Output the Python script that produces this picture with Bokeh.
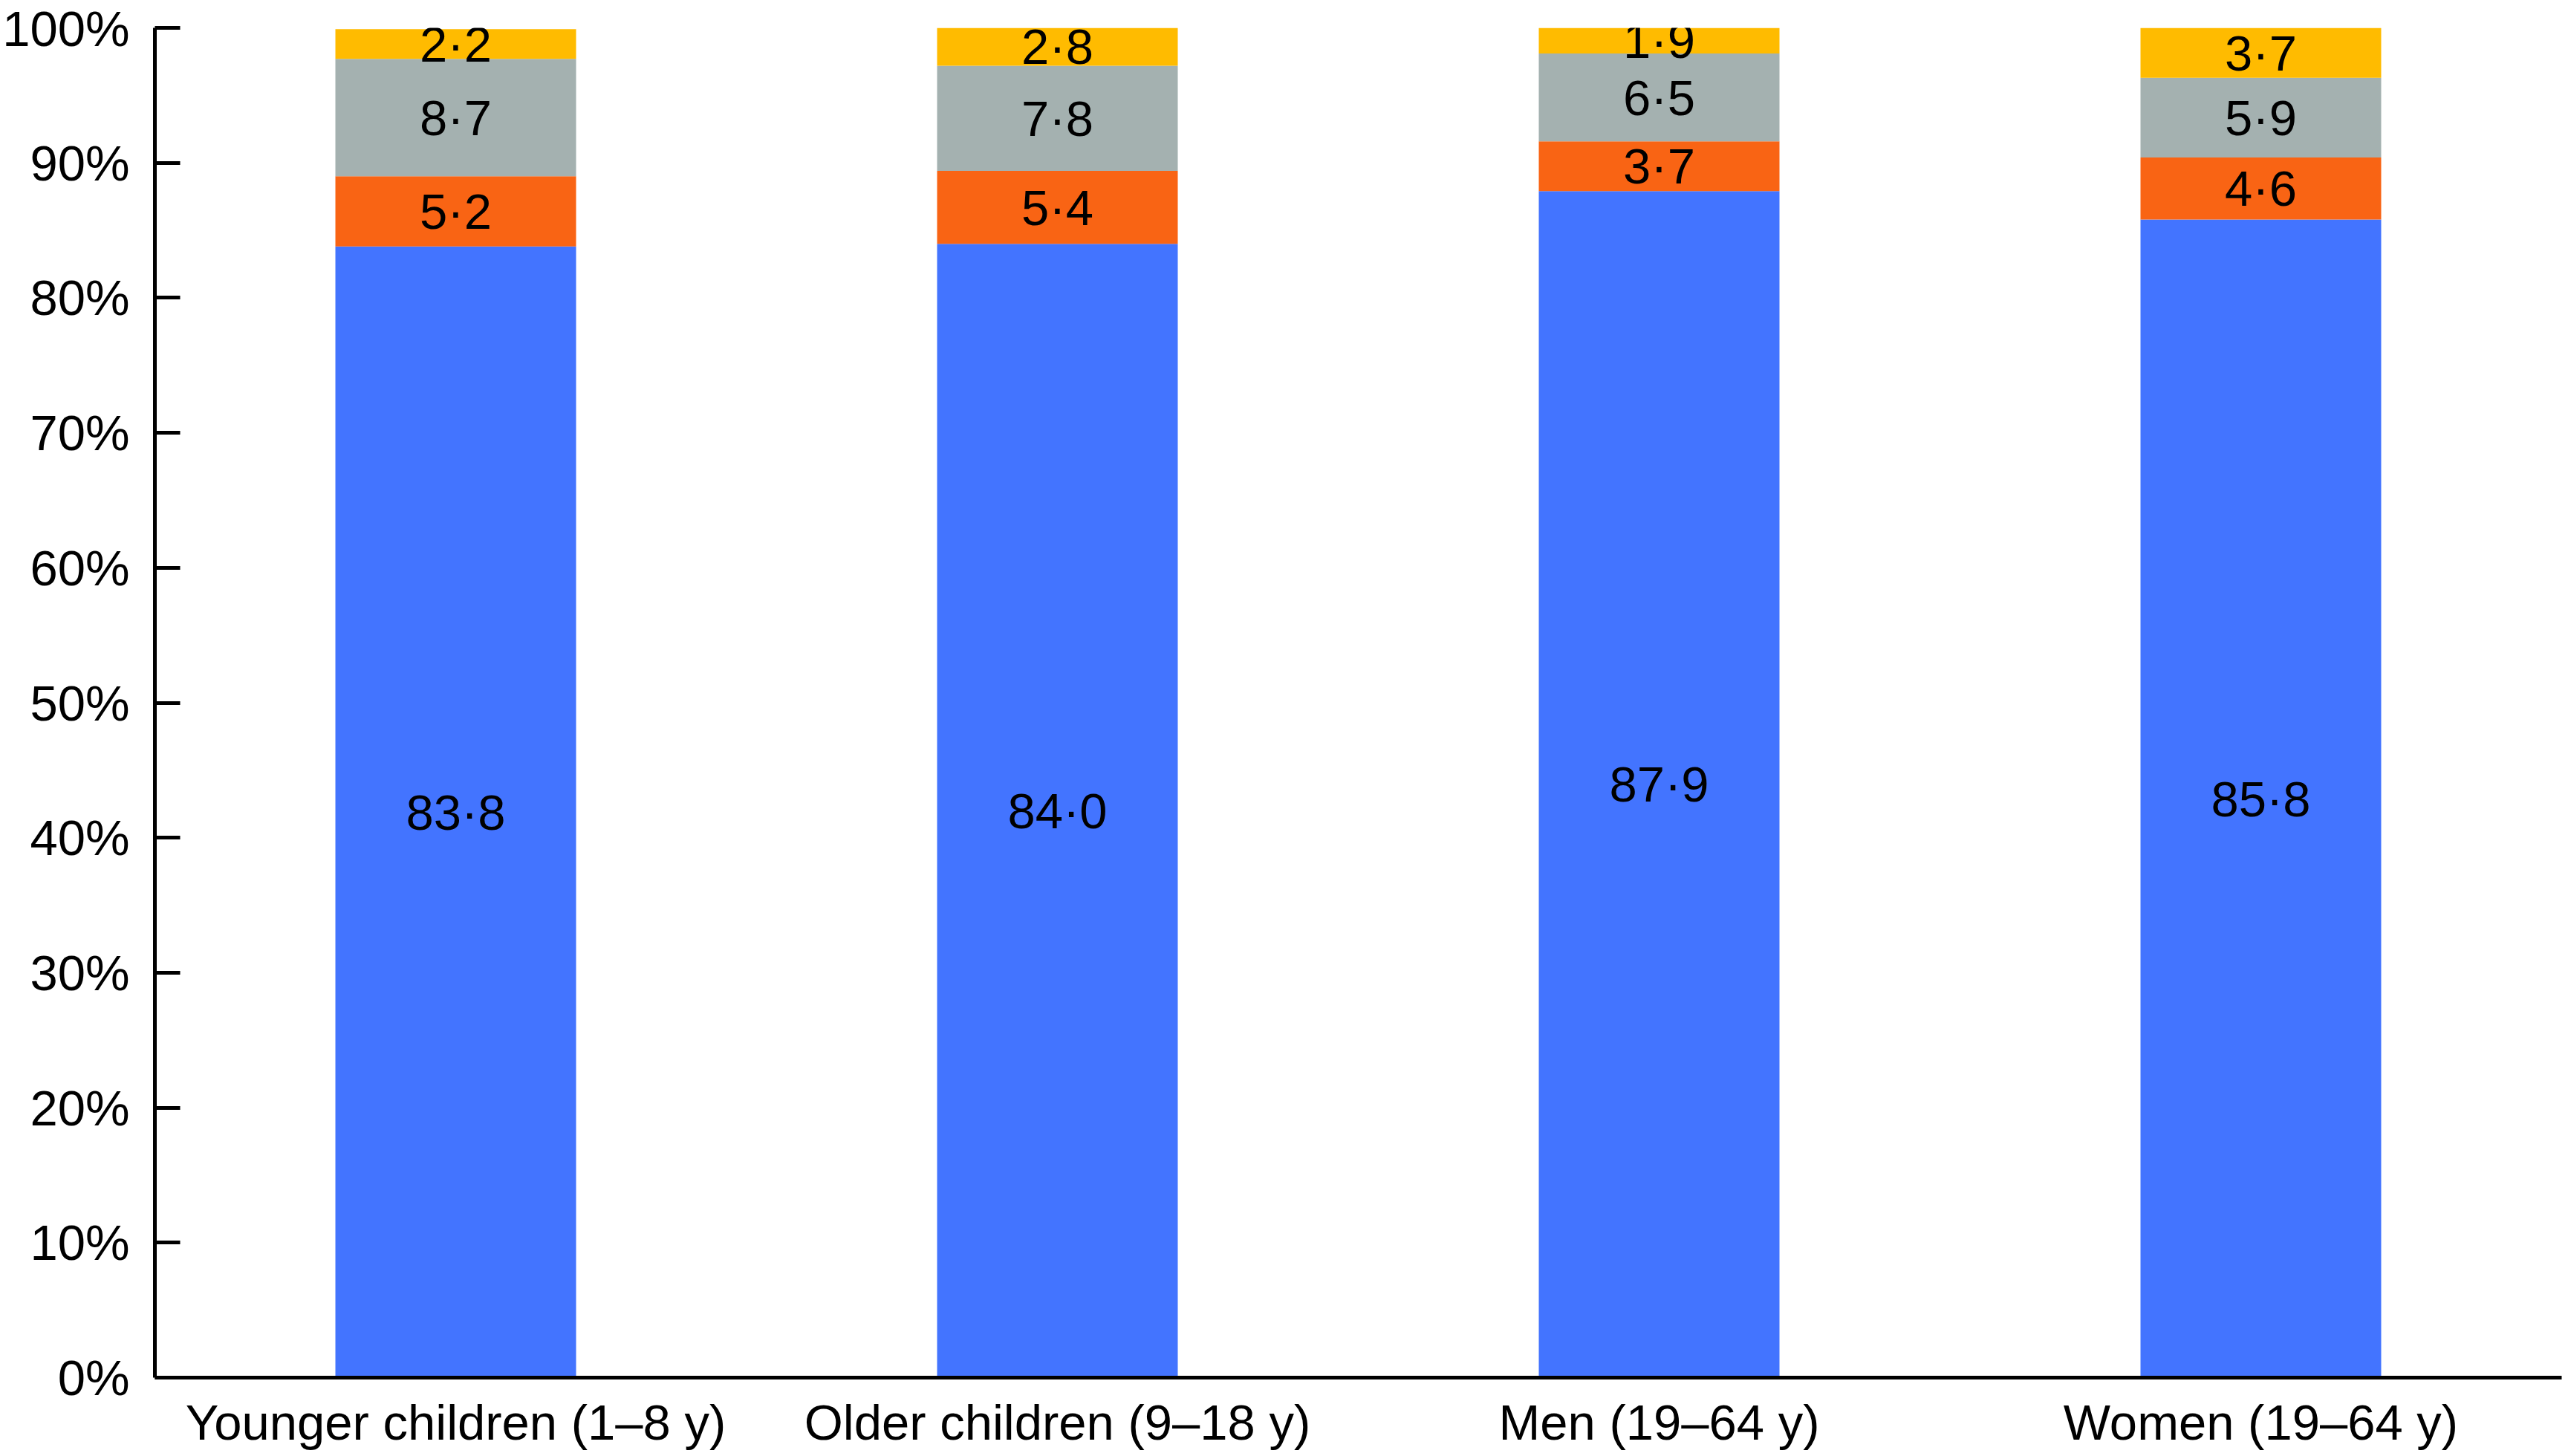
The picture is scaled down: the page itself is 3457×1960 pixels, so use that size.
from bokeh.plotting import figure
from bokeh.models import ColumnDataSource, FactorRange, Range1d, FixedTicker, PrintfTickFormatter, LabelSet
from bokeh.core.properties import value
from bokeh.embed import file_html
from bokeh.resources import INLINE

groups = ["Younger children (1\u20138 y)", "Older children (9\u201318 y)", "Men (19\u201364 y)", "Women (19\u201364 y)"]
seg_blue = [83.8, 84.0, 87.9, 85.8]
seg_orange = [5.2, 5.4, 3.7, 4.6]
seg_grey = [8.7, 7.8, 6.5, 5.9]
seg_yellow = [2.2, 2.8, 1.9, 3.7]
y_ticks = [0, 10, 20, 30, 40, 50, 60, 70, 80, 90, 100]

series = ["blue", "orange", "grey", "yellow"]
colors = ["#4374FF", "#F96414", "#A4B1B0", "#FFBB00"]
data = {"g": groups, "blue": seg_blue, "orange": seg_orange, "grey": seg_grey, "yellow": seg_yellow}
source = ColumnDataSource(data)

FONT = "Liberation Sans"
FS = "67px"

p = figure(x_range=FactorRange(*groups, range_padding=0), y_range=Range1d(0, 100),
           width=3449, height=1958, output_backend="svg", toolbar_location=None,
           min_border_left=199, min_border_right=1, min_border_top=37, min_border_bottom=104)

p.vbar_stack(series, x="g", width=0.4, color=colors, source=source, line_width=0)

# labels at segment midpoints
lx, ly, lt = [], [], []
for i, g in enumerate(groups):
    base = 0.0
    for s in series:
        v = data[s][i]
        lx.append(g)
        ly.append(base + v / 2.0)
        lt.append(f"{v:.1f}".replace(".", "\u00b7"))
        base += v
lsrc = ColumnDataSource(dict(x=lx, y=ly, t=lt))
labels = LabelSet(x="x", y="y", text="t", source=lsrc, text_align="center", text_baseline="middle",
                  text_font=value(FONT), text_font_size=value(FS), text_color="black")
p.add_layout(labels)

p.xgrid.visible = False
p.ygrid.visible = False
p.outline_line_color = None
p.background_fill_color = "white"
p.border_fill_color = "white"

p.yaxis.ticker = FixedTicker(ticks=y_ticks)
p.yaxis.formatter = PrintfTickFormatter(format="%d%%")
p.yaxis.major_tick_in = 34
p.yaxis.major_tick_out = 0
p.yaxis.minor_tick_line_color = None
p.yaxis.major_tick_line_width = 5
p.yaxis.axis_line_width = 5
p.yaxis.axis_line_color = "black"
p.yaxis.major_tick_line_color = "black"
p.yaxis.major_label_standoff = 34
p.yaxis.major_label_text_font = FONT
p.yaxis.major_label_text_font_size = FS
p.yaxis.major_label_text_color = "black"

p.xaxis.major_tick_in = 0
p.xaxis.major_tick_out = 0
p.xaxis.major_tick_line_color = None
p.xaxis.axis_line_width = 5
p.xaxis.axis_line_color = "black"
p.xaxis.major_label_standoff = 22
p.xaxis.major_label_text_font = FONT
p.xaxis.major_label_text_font_size = FS
p.xaxis.major_label_text_color = "black"

open("out.html", "w").write(file_html(p, INLINE))
